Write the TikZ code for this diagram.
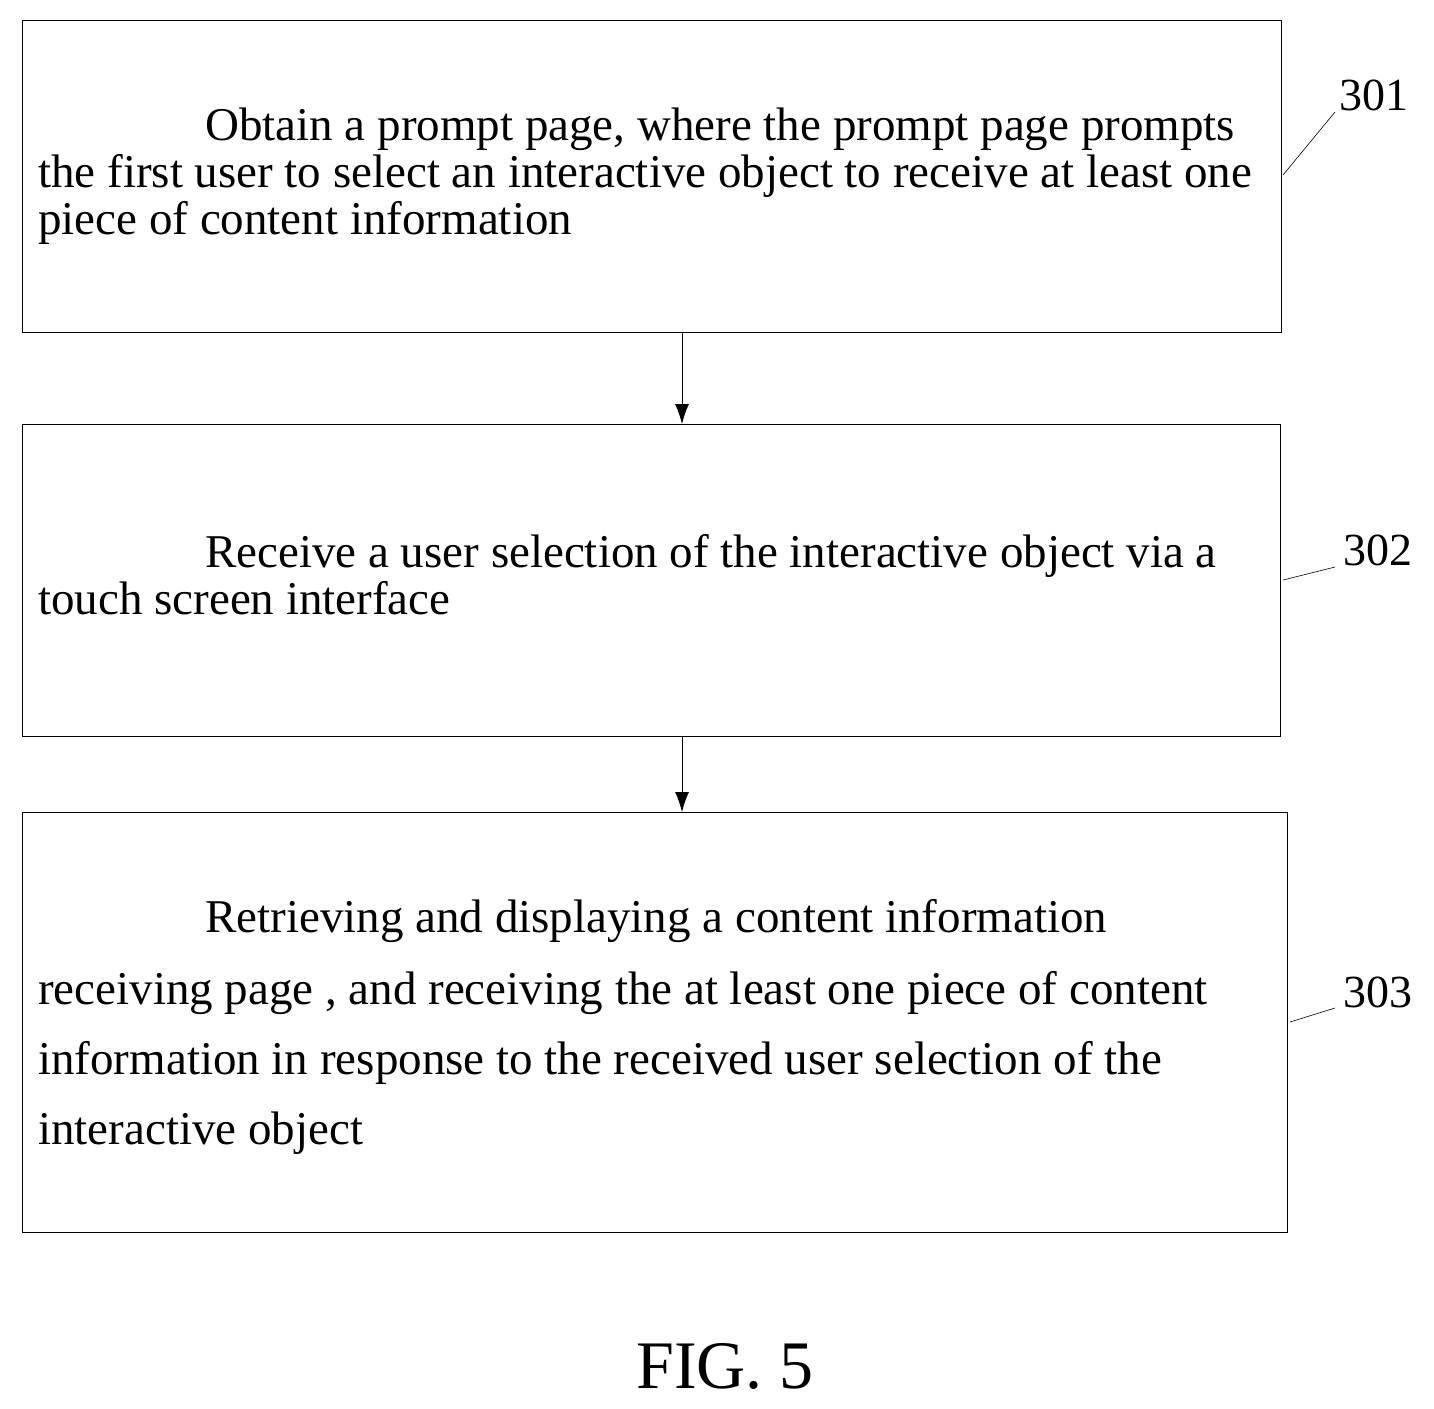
\documentclass[tikz,border=0pt]{standalone}
\usepackage{fontspec}
\usetikzlibrary{arrows.meta}
\setmainfont{Liberation Serif}
\begin{document}
\begin{tikzpicture}[x=1pt,y=-1pt,
  box/.style={draw,line width=0.8pt,inner sep=0pt,anchor=north west},
  txt/.style={anchor=base west,inner sep=0pt,font=\fontsize{47}{50}\selectfont},
  lbl/.style={anchor=center,inner sep=0pt,font=\fontsize{46}{50}\selectfont},
  arr/.style={-{Latex[length=20pt,width=14pt]},line width=0.8pt}]
\useasboundingbox (0,0) rectangle (1434,1408);
\node[box,minimum width=1259pt,minimum height=312pt] (b1) at (22,20) {};
\node[box,minimum width=1258pt,minimum height=312pt] (b2) at (22,424) {};
\node[box,minimum width=1265pt,minimum height=420pt] (b3) at (22,812) {};
\node[txt] (t11) at (205,140) {Obtain a prompt page, where the prompt page prompts};
\node[txt] (t12) at (38,187) {the first user to select an interactive object to receive at least one};
\node[txt] (t13) at (38,234) {piece of content information};
\node[txt] (t21) at (205,567) {Receive a user selection of the interactive object via a};
\node[txt] (t22) at (38,614) {touch screen interface};
\node[txt] (t31) at (205,932) {Retrieving and displaying a content information};
\node[txt] (t32) at (38,1004) {receiving page , and receiving the at least one piece of content};
\node[txt] (t33) at (38,1074) {information in response to the received user selection of the};
\node[txt] (t34) at (38,1144) {interactive object};
\draw[arr] (b1.south -| 682,0) -- (b2.north -| 682,0);
\draw[arr] (b2.south -| 682,0) -- (b3.north -| 682,0);
\node[lbl] (l1) at (1374,95) {301};
\node[lbl] (l2) at (1378,550) {302};
\node[lbl] (l3) at (1378,992) {303};
\coordinate (c1) at (1283,175); \coordinate (d1) at (1335,112);
\coordinate (c2) at (1283,580); \coordinate (d2) at (1335,567);
\coordinate (c3) at (1290,1022); \coordinate (d3) at (1335,1008);
\draw[line width=0.6pt] (c1) -- (d1);
\draw[line width=0.6pt] (c2) -- (d2);
\draw[line width=0.6pt] (c3) -- (d3);
\node[inner sep=0pt,anchor=base,font=\fontsize{68}{70}\selectfont] (fig) at (725,1388) {FIG. 5};
\end{tikzpicture}
\end{document}
